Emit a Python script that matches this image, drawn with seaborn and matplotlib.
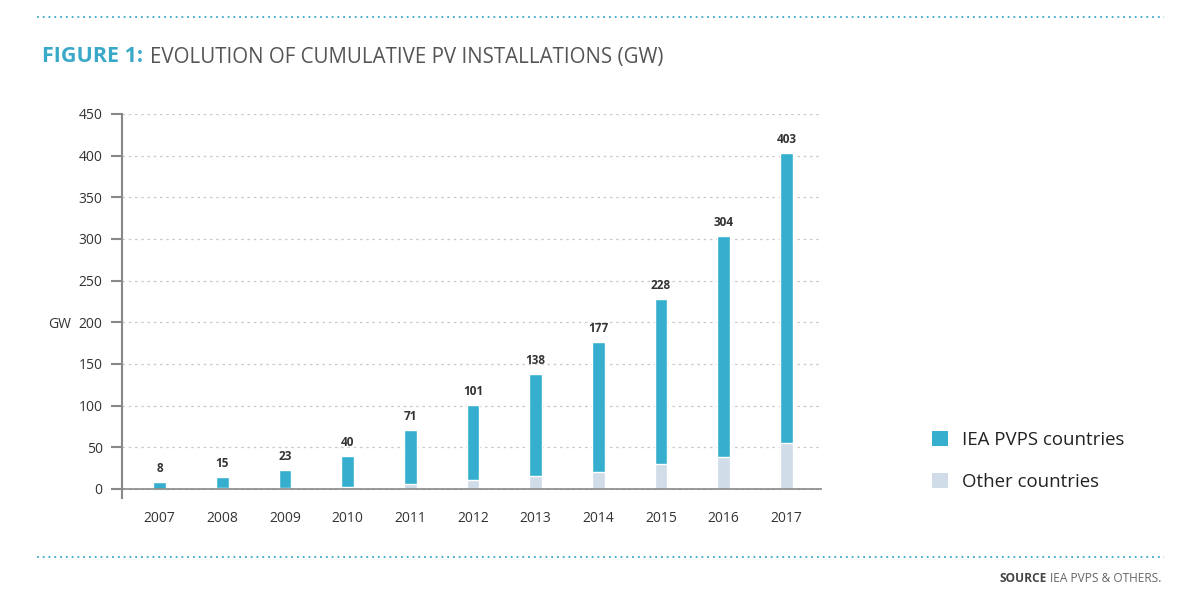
import matplotlib.pyplot as plt
import pandas as pd
import seaborn as sns
from matplotlib.lines import Line2D
from matplotlib.patches import Patch

years = ["2007", "2008", "2009", "2010", "2011", "2012", "2013", "2014", "2015", "2016", "2017"]
totals = [8, 15, 23, 40, 71, 101, 138, 177, 228, 304, 403]
other = [0.5, 1, 1.5, 3, 6, 11, 16, 20, 30, 39, 55]

IEA_COLOR = "#36afcf"
OTHER_COLOR = "#d0dce8"
TEAL = "#3aa9c9"
GREY = "#555555"


def main() -> None:
    sns.set_theme(style="white")
    plt.rcParams["font.family"] = ["Open Sans", "DejaVu Sans"]

    df = pd.DataFrame({"year": years, "total": totals, "other": other})

    fig = plt.figure(figsize=(12, 6), dpi=100)
    ax = fig.add_axes([0.1017, 0.17, 0.5833, 0.64])

    sns.barplot(data=df, x="year", y="total", color=IEA_COLOR, width=0.2,
                saturation=1, ax=ax, zorder=3)
    sns.barplot(data=df, x="year", y="other", color=OTHER_COLOR, width=0.2,
                saturation=1, ax=ax, zorder=3)

    for i, v in enumerate(totals):
        ax.annotate(str(v), (i, v), xytext=(0, 5), textcoords="offset points",
                    ha="center", va="bottom", fontsize=8.5, fontweight="bold",
                    color="#333333")

    ax.set_xlim(-0.6, 10.57)
    ax.set_ylim(-10.8, 450)
    ax.set_yticks(range(0, 451, 50))
    ax.yaxis.grid(True, linestyle=(0, (2, 3)), color="#c8c8c8", linewidth=0.9)
    ax.set_axisbelow(True)
    ax.axhline(0, color="#888888", linewidth=1.2, zorder=4)

    for side in ["top", "right", "bottom"]:
        ax.spines[side].set_visible(False)
    ax.spines["left"].set_color("#888888")
    ax.spines["left"].set_linewidth(1.5)
    ax.tick_params(axis="y", which="major", left=True, length=8, width=1.5,
                   color="#888888", labelsize=10, labelcolor="#333333", pad=6)
    ax.tick_params(axis="x", bottom=False, labelsize=10, labelcolor="#333333", pad=3)
    ax.set_xlabel("")
    ax.set_ylabel("")

    fig.text(0.04, 1 - 325 / 600, "GW", fontsize=10, color="#333333", va="center")

    # header and footer
    fig.add_artist(Line2D([0.031, 0.97], [1 - 17 / 600] * 2, color=TEAL,
                          linestyle=(0, (1, 2.2)), linewidth=1.3))
    fig.add_artist(Line2D([0.031, 0.97], [1 - 557 / 600] * 2, color=TEAL,
                          linestyle=(0, (1, 2.2)), linewidth=1.3))
    t = fig.text(0.035, 1 - 57 / 600, "FIGURE 1:", fontsize=15.5, fontweight="bold",
                 color=TEAL, va="center")
    fig.canvas.draw()
    bb = t.get_window_extent()
    fig.text(bb.x1 / 1200 + 0.006, 1 - 57 / 600,
             "EVOLUTION OF CUMULATIVE PV INSTALLATIONS (GW)",
             fontsize=14.8, color=GREY, va="center")

    s = fig.text(0.968, 1 - 579 / 600, "IEA PVPS & OTHERS.", fontsize=8.6,
                 color="#666666", ha="right", va="center")
    fig.canvas.draw()
    bb = s.get_window_extent()
    fig.text(bb.x0 / 1200 - 0.003, 1 - 579 / 600, "SOURCE", fontsize=8.6,
             fontweight="bold", color="#444444", ha="right", va="center")

    handles = [Patch(facecolor=IEA_COLOR, edgecolor="none", label="IEA PVPS countries"),
               Patch(facecolor=OTHER_COLOR, edgecolor="none", label="Other countries")]
    fig.legend(handles=handles, loc="center left", bbox_to_anchor=(0.763, 1 - 461 / 600),
               frameon=False, fontsize=13.4, handlelength=0.85, handleheight=0.85,
               labelspacing=1.3, handletextpad=0.75, labelcolor="#222222")

    fig.savefig("out.png", dpi=100, facecolor="white")


if __name__ == "__main__":
    main()
